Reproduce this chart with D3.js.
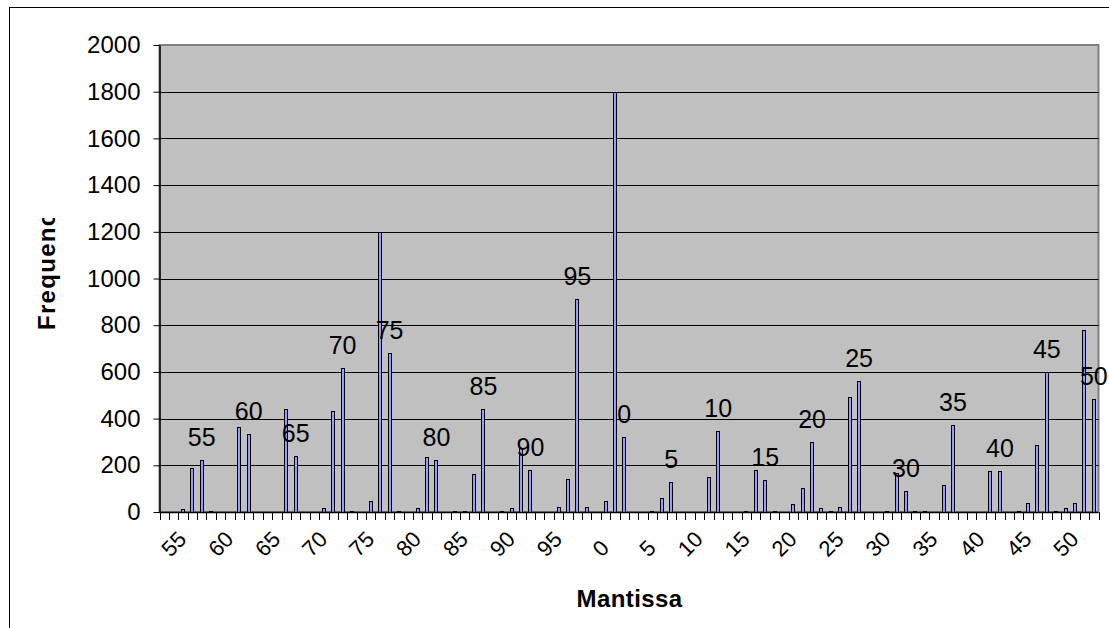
<!DOCTYPE html>
<html>
<head>
<meta charset="utf-8">
<script src="https://cdn.jsdelivr.net/npm/d3@7"></script>
<style>
  html, body { margin: 0; padding: 0; background: #fff; }
  svg { display: block; }
  text { font-family: "Liberation Sans", Arial, sans-serif; fill: #000; }
</style>
</head>
<body>
<svg id="chart" width="1109" height="628"></svg>
<script>
// Mantissa categories, in the order they run along the x axis
const categories = [
  51, 52, 53, 54, 55, 56, 57, 58, 59, 60, 61, 62, 63, 64, 65, 66, 67, 68, 69, 70,
  71, 72, 73, 74, 75, 76, 77, 78, 79, 80, 81, 82, 83, 84, 85, 86, 87, 88, 89, 90,
  91, 92, 93, 94, 95, 96, 97, 98, 99, 0, 1, 2, 3, 4, 5, 6, 7, 8, 9, 10,
  11, 12, 13, 14, 15, 16, 17, 18, 19, 20, 21, 22, 23, 24, 25, 26, 27, 28, 29, 30,
  31, 32, 33, 34, 35, 36, 37, 38, 39, 40, 41, 42, 43, 44, 45, 46, 47, 48, 49, 50
];

// Frequency of each mantissa value (same order as categories)
const frequency = [
  0, 0, 14, 188, 221, 5, 0, 0, 365, 332, 0, 0, 0, 439, 240, 0, 0, 15, 433, 616,
  5, 0, 48, 1200, 682, 5, 0, 15, 235, 221, 0, 5, 5, 161, 439, 0, 5, 15, 275, 182,
  0, 0, 22, 142, 912, 22, 0, 48, 1797, 320, 0, 0, 5, 62, 128, 0, 0, 0, 149, 347,
  0, 0, 5, 182, 135, 5, 0, 36, 102, 300, 15, 6, 22, 492, 562, 0, 0, 5, 167, 88,
  5, 5, 0, 116, 374, 0, 0, 0, 176, 176, 0, 5, 37, 287, 600, 5, 17, 37, 780, 485
];

// Categories that carry an axis label and a label above their bar
const labelledCategories = [55, 60, 65, 70, 75, 80, 85, 90, 95, 0, 5, 10, 15, 20, 25, 30, 35, 40, 45, 50];

// Value-axis ticks
const yTicks = [0, 200, 400, 600, 800, 1000, 1200, 1400, 1600, 1800, 2000];

const xTitle = "Mantissa";
const yTitle = "Frequency";

// ---- layout ----
const plot = { left: 159.5, right: 1098.5, top: 45, bottom: 512 };
const svg = d3.select("#chart");

const valueOf = new Map(categories.map((c, i) => [c, frequency[i]]));

// one cell per category; bars sit centred in their cell
const xCell = d3.scaleBand().domain(categories).range([plot.left, plot.right]).padding(0);
const xBar = xCell.copy().paddingInner(0.57).paddingOuter(0.285);
const y = d3.scaleLinear().domain([0, 2000]).range([plot.bottom, plot.top]);

// chart-area frame
svg.append("rect")
  .attr("x", 9.5).attr("y", 7.5).attr("width", 1300).attr("height", 800)
  .attr("fill", "#fff").attr("stroke", "#000").attr("stroke-width", 1);

// plot area
svg.append("rect")
  .attr("x", plot.left).attr("y", plot.top)
  .attr("width", plot.right - plot.left).attr("height", plot.bottom - plot.top)
  .attr("fill", "#C0C0C0").attr("stroke", "#808080").attr("stroke-width", 2);

// horizontal gridlines
svg.append("g")
  .selectAll("line")
  .data(yTicks.filter(v => v > 0 && v < 2000))
  .join("line")
  .attr("x1", plot.left).attr("x2", plot.right)
  .attr("y1", d => Math.round(y(d)) + 0.5).attr("y2", d => Math.round(y(d)) + 0.5)
  .attr("stroke", "#000").attr("stroke-width", 1);

// bars
svg.append("g")
  .selectAll("rect")
  .data(categories.filter(c => valueOf.get(c) > 0))
  .join("rect")
  .attr("x", c => Math.round(xBar(c)) + 0.5)
  .attr("width", 3)
  .attr("y", c => Math.round(y(valueOf.get(c))) + 0.5)
  .attr("height", c => Math.max(0.5, Math.round(plot.bottom) - Math.round(y(valueOf.get(c)))))
  .attr("fill", "#9999FF")
  .attr("stroke", "#000")
  .attr("stroke-width", 1);

// value axis
const yAxis = svg.append("g")
  .attr("transform", `translate(${plot.left},0)`)
  .call(d3.axisLeft(y).tickValues(yTicks).tickFormat(d3.format("d"))
    .tickSize(6).tickSizeOuter(0).tickPadding(13));
yAxis.select(".domain").attr("stroke", "#000").attr("stroke-width", 1.5);
yAxis.selectAll(".tick line").attr("stroke", "#000");
yAxis.selectAll(".tick text")
  .attr("font-size", 24)
  .attr("font-family", "Liberation Sans, Arial, sans-serif")
  .attr("fill", "#000");

// category axis line and tick marks on the cell boundaries
svg.append("line")
  .attr("x1", plot.left).attr("x2", plot.right)
  .attr("y1", plot.bottom + 0.5).attr("y2", plot.bottom + 0.5)
  .attr("stroke", "#000").attr("stroke-width", 1.5);

const boundaries = categories.map(c => xCell(c)).concat([xCell.range()[1]]);
svg.append("g")
  .selectAll("line")
  .data(boundaries)
  .join("line")
  .attr("x1", d => Math.round(d) + 0.5).attr("x2", d => Math.round(d) + 0.5)
  .attr("y1", plot.bottom).attr("y2", plot.bottom + 8)
  .attr("stroke", "#000").attr("stroke-width", 1);

// rotated category labels
svg.append("g")
  .selectAll("text")
  .data(labelledCategories)
  .join("text")
  .attr("font-size", 22)
  .attr("text-anchor", "end")
  .text(d => d)
  .each(function (d) {
    const L = this.getComputedTextLength();
    const cx = xCell(d) + xCell.bandwidth() / 2;
    const px = cx - 14;
    const py = 558 - 0.707 * L;
    d3.select(this).attr("transform", `translate(${px},${py}) rotate(-45)`);
  });

// labels above the labelled bars
svg.append("g")
  .selectAll("text")
  .data(labelledCategories)
  .join("text")
  .attr("font-size", 25)
  .attr("text-anchor", "middle")
  .attr("x", d => xCell(d) + xCell.bandwidth() / 2)
  .attr("y", d => y(valueOf.get(d)) - 14)
  .text(d => d);

// axis titles
svg.append("text")
  .attr("x", 629.5).attr("y", 606.5)
  .attr("text-anchor", "middle")
  .attr("font-size", 24).attr("font-weight", "bold")
  .attr("letter-spacing", 0.4)
  .text(xTitle);

// the value-axis title overflows its box and is cut off at the top
svg.append("clipPath").attr("id", "ytitle-clip")
  .append("rect").attr("x", 0).attr("y", 218).attr("width", 150).attr("height", 400);

svg.append("g")
  .attr("clip-path", "url(#ytitle-clip)")
  .append("text")
  .attr("transform", "translate(55,330) rotate(-90)")
  .attr("text-anchor", "start")
  .attr("font-size", 24).attr("font-weight", "bold")
  .attr("letter-spacing", 1.3)
  .text(yTitle);
</script>
</body>
</html>
